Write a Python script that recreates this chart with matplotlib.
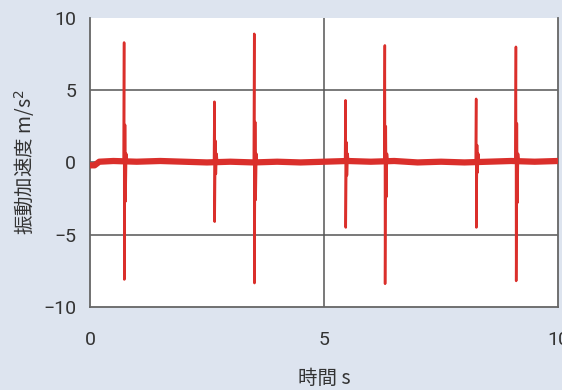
import matplotlib.pyplot as plt
import numpy as np

# Spike events
spike_times = [0.73, 2.66, 3.51, 5.46, 6.30, 8.25, 9.10]
spike_highs = [8.3, 4.2, 8.9, 4.3, 8.1, 4.4, 8.0]
spike_lows = [-8.1, -4.1, -8.35, -4.5, -8.4, -4.5, -8.2]
ring_highs = [2.6, 1.5, 2.8, 1.4, 2.5, 1.2, 2.7]
ring_lows = [-2.7, -0.8, -2.6, -0.9, -2.4, -0.7, -2.8]

# Baseline level (slow drift) read at a few times
base_times = [0.0, 0.1, 0.2, 0.5, 1.0, 1.5, 2.0, 2.5, 3.0, 3.5, 4.0, 4.5,
              5.0, 5.5, 6.0, 6.5, 7.0, 7.5, 8.0, 8.5, 9.0, 9.5, 10.0]
base_levels = [-0.2, -0.2, 0.05, 0.1, 0.05, 0.1, 0.05, 0.0, 0.05, 0.0, 0.05,
               0.0, 0.05, 0.1, 0.05, 0.1, 0.0, 0.05, 0.0, 0.05, 0.1, 0.05, 0.1]

x_ticks = [0, 5, 10]
y_ticks = [-10, -5, 0, 5, 10]
y_tick_labels = ["\u221210", "\u22125", "0", "5", "10"]

RED = "#da2f2b"
BG = "#dde4ef"
TXT = "#333333"

plt.rcParams["font.family"] = ["Roboto", "Noto Sans CJK JP", "DejaVu Sans"]

fig = plt.figure(figsize=(5.62, 3.9), dpi=100, facecolor=BG)
ax = fig.add_axes([0.160, 0.213, 0.833, 0.741])
ax.set_facecolor("white")

ax.plot(base_times, base_levels, color=RED, lw=4.5, solid_capstyle="butt", zorder=3)

for t, hi, lo, rh, rl in zip(spike_times, spike_highs, spike_lows, ring_highs, ring_lows):
    xs = [t - 0.01, t, t + 0.005, t + 0.02, t + 0.03, t + 0.045, t + 0.06]
    ys = [0.0, hi, lo, rh, rl, 0.6, 0.0]
    ax.plot(xs, ys, color=RED, lw=1.8, zorder=4)

ax.set_xlim(0, 10)
ax.set_ylim(-10, 10)
ax.set_xticks(x_ticks)
ax.set_xticklabels([str(v) for v in x_ticks])
ax.set_yticks(y_ticks)
ax.set_yticklabels(y_tick_labels)
ax.tick_params(length=0, labelsize=14, colors=TXT)
ax.tick_params(axis="x", pad=17)
ax.tick_params(axis="y", pad=10)

for v in [-5, 0, 5]:
    ax.axhline(v, color="#555555", lw=1.1, zorder=1)
ax.axvline(5, color="#555555", lw=1.1, zorder=1)

ax.spines["top"].set_visible(False)
for s in ["left", "bottom", "right"]:
    ax.spines[s].set_color("#666666")
    ax.spines[s].set_linewidth(1.3)

ax.set_xlabel("時間 s", fontsize=14, color=TXT,
              family=["Noto Sans CJK JP", "DejaVu Sans"], labelpad=14)
ax.set_ylabel("振動加速度 m/s$^2$", fontsize=14, color=TXT,
              family=["Noto Sans CJK JP", "DejaVu Sans"], labelpad=4)

fig.savefig("out.png", dpi=100, facecolor=BG)
